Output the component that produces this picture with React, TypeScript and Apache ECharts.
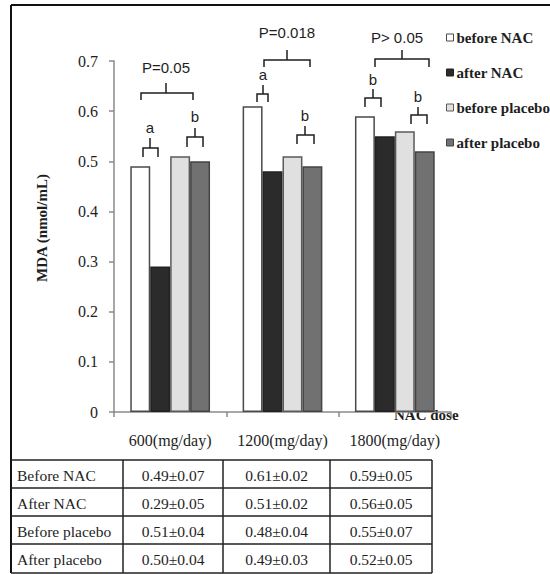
import React, { useEffect, useRef } from 'react';
import * as echarts from 'echarts';

// ---------- data ----------
const categories = ['600(mg/day)', '1200(mg/day)', '1800(mg/day)'];
const seriesNames = ['before NAC', 'after NAC', 'before placebo', 'after placebo'];
const beforeNAC = [0.49, 0.61, 0.59];
const afterNAC = [0.29, 0.48, 0.55];
const beforePlacebo = [0.51, 0.51, 0.56];
const afterPlacebo = [0.5, 0.49, 0.52];
const yMin = 0;
const yMax = 0.7;
const yStep = 0.1;
const axisName = 'MDA (nmol/mL)';
const xAxisTitle = 'NAC dose';
const pLabels = ['P=0.05', 'P=0.018', 'P> 0.05'];
const letterLabels = [['a', 'b'], ['a', 'b'], ['b', 'b']];
const tableRows = ['Before NAC', 'After NAC', 'Before placebo', 'After placebo'];
const tableCells = [
  ['0.49±0.07', '0.61±0.02', '0.59±0.05'],
  ['0.29±0.05', '0.51±0.02', '0.56±0.05'],
  ['0.51±0.04', '0.48±0.04', '0.55±0.07'],
  ['0.50±0.04', '0.49±0.03', '0.52±0.05'],
];

// ---------- styles ----------
const SERIF = '"Liberation Serif", "DejaVu Serif", serif';
const SANS = '"Liberation Sans", Arial, sans-serif';
const INK = '#1e1e1e';
const seriesColors = ['#ffffff', '#2b2b2b', '#e0e0e0', '#717171'];
const seriesBorders = ['#4a4a4a', '#222222', '#5a5a5a', '#444444'];

function txt(text: string, x: number, y: number, opts: any = {}) {
  const align = opts.align || 'center';
  const va = opts.va || 'middle';
  return {
    type: 'text',
    x,
    y,
    rotation: opts.rotation || 0,
    silent: true,
    style: {
      text,
      fill: opts.fill || INK,
      fontSize: opts.size || 15,
      fontFamily: opts.family || SERIF,
      fontWeight: opts.weight || 'normal',
      textAlign: align,
      align,
      textVerticalAlign: va,
      verticalAlign: va,
    },
  };
}

function ln(x1: number, y1: number, x2: number, y2: number, stroke = INK, lw = 1.5) {
  return { type: 'line', silent: true, shape: { x1, y1, x2, y2 }, style: { stroke, lineWidth: lw } };
}

// bracket: [x1, x2, yBar, yDrop, xTick, yTickTop]
function bracket(b: number[]) {
  const [x1, x2, y, yd, xt, yt] = b;
  return [
    {
      type: 'polyline',
      silent: true,
      shape: { points: [[x1, yd], [x1, y], [x2, y], [x2, yd]] },
      style: { stroke: INK, lineWidth: 1.5, fill: null },
    },
    ln(xt, y, xt, yt),
  ];
}

function buildGraphics() {
  const g: any[] = [];
  // outer frame
  g.push(ln(11, 5, 550, 5, '#111', 2));
  g.push(ln(11, 5, 11, 573, '#111', 2));

  // P brackets
  const bigB = [
    [141, 193, 93, 100, 166, 83],
    [264, 310, 60, 67, 287, 50],
    [375, 429, 59, 67, 402, 50],
  ];
  const bigLabelPos = [[166, 67], [287, 32], [397, 37]];
  bigB.forEach((b, i) => {
    g.push(...bracket(b));
    g.push(txt(pLabels[i], bigLabelPos[i][0], bigLabelPos[i][1], { family: SANS, size: 15 }));
  });
  const smallB = [
    [[143, 158, 148, 157, 150, 138], [187, 203, 137, 147, 195, 128]],
    [[257, 268, 94, 102, 263, 85], [297, 314, 135, 144, 305, 126]],
    [[365, 381, 98, 107, 373, 89], [411, 427, 115, 124, 418, 107]],
  ];
  const smallLabelPos = [
    [[150, 127], [195, 116]],
    [[263, 74], [305, 115]],
    [[373, 79], [418, 96]],
  ];
  smallB.forEach((pair, i) => {
    pair.forEach((b, j) => {
      g.push(...bracket(b));
      g.push(txt(letterLabels[i][j], smallLabelPos[i][j][0], smallLabelPos[i][j][1], { family: SANS, size: 15 }));
    });
  });

  // axis titles
  g.push(txt(axisName, 42, 228, { rotation: Math.PI / 2, weight: 'bold', size: 15 }));
  g.push(txt(xAxisTitle, 394, 415, { align: 'left', weight: 'bold', size: 15 }));

  // table
  const colX = [11, 123, 223, 330, 432];
  const rowY = [460, 488, 516, 544, 573];
  rowY.forEach((y) => g.push(ln(11, y, 432, y, '#222', 1.5)));
  colX.slice(1).forEach((x) => g.push(ln(x, 460, x, 573, '#222', 1.5)));
  tableRows.forEach((r, i) => {
    const cy = (rowY[i] + rowY[i + 1]) / 2 + 1;
    g.push(txt(r, 17, cy, { align: 'left', size: 15.5 }));
    tableCells[i].forEach((c, j) => {
      g.push(txt(c, (colX[j + 1] + colX[j + 2]) / 2, cy, { size: 15.5 }));
    });
  });
  return g;
}

export default function App() {
  const ref = useRef<HTMLDivElement>(null);
  useEffect(() => {
    const chart = echarts.init(ref.current!, null, { renderer: 'svg' });
    const seriesData = [beforeNAC, afterNAC, beforePlacebo, afterPlacebo];
    chart.setOption({
      animation: false,
      backgroundColor: '#ffffff',
      grid: { left: 114, right: 99, top: 61, bottom: 162, containLabel: false },
      legend: {
        orient: 'vertical',
        left: 441,
        top: 25,
        itemWidth: 7,
        itemHeight: 7,
        itemGap: 20,
        icon: 'rect',
        data: seriesNames,
        textStyle: {
          fontFamily: SERIF,
          fontWeight: 'bold',
          fontSize: 15,
          lineHeight: 15,
          color: INK,
          padding: [0, 0, 0, -2],
        },
        itemStyle: { borderWidth: 1 },
      },
      xAxis: {
        type: 'category',
        data: categories,
        axisLine: { lineStyle: { color: '#8a8a8a', width: 1.5 } },
        axisTick: { show: true, length: 5, lineStyle: { color: '#8a8a8a', width: 1.5 } },
        axisLabel: {
          fontFamily: SERIF,
          fontSize: 16,
          color: INK,
          margin: 20,
          interval: 0,
          hideOverlap: false,
        },
      },
      yAxis: {
        type: 'value',
        min: yMin,
        max: yMax,
        interval: yStep,
        splitLine: { show: false },
        axisLine: { show: true, lineStyle: { color: '#8a8a8a', width: 1.5 } },
        axisTick: { show: true, length: 5, lineStyle: { color: '#8a8a8a', width: 1.5 } },
        axisLabel: {
          fontFamily: SERIF,
          fontSize: 16,
          color: INK,
          margin: 16,
          formatter: (v: number) => String(Math.round(v * 10) / 10),
        },
      },
      series: seriesNames.map((name, i) => ({
        name,
        type: 'bar',
        data: seriesData[i],
        barGap: '0%',
        barCategoryGap: '29%',
        itemStyle: { color: seriesColors[i], borderColor: seriesBorders[i], borderWidth: 1.5 },
      })),
      graphic: buildGraphics(),
    });
    return () => chart.dispose();
  }, []);
  return (
    <div
      ref={ref}
      style={{ position: 'fixed', left: 0, top: 0, width: 550, height: 574, background: '#fff' }}
    />
  );
}
